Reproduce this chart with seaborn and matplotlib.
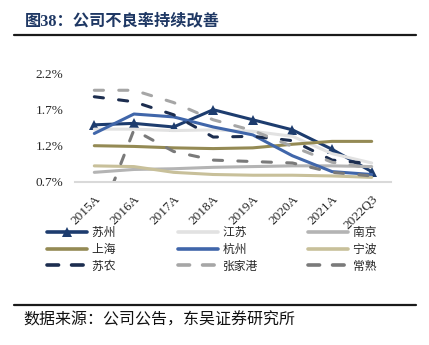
import matplotlib
matplotlib.use("Agg")
import matplotlib.pyplot as plt
from matplotlib.lines import Line2D
import seaborn as sns
import numpy as np

# ---- data ----
categories = ["2015A", "2016A", "2017A", "2018A", "2019A", "2020A", "2021A", "2022Q3"]
suzhou     = [1.49, 1.51, 1.46, 1.70, 1.56, 1.42, 1.15, 0.84]
jiangsu    = [1.43, 1.43, 1.41, 1.42, 1.40, 1.33, 1.09, 0.96]
nanjing    = [0.83, 0.87, 0.88, 0.90, 0.91, 0.92, 0.92, 0.91]
shanghai   = [1.20, 1.19, 1.17, 1.16, 1.17, 1.22, 1.26, 1.26]
hangzhou   = [1.37, 1.64, 1.60, 1.46, 1.35, 1.06, 0.84, 0.80]
ningbo     = [0.92, 0.91, 0.83, 0.80, 0.79, 0.79, 0.78, 0.76]
sunong     = [1.88, 1.81, 1.63, 1.32, 1.33, 1.27, 1.00, 0.95]
zhangjiagang = [1.97, 1.97, 1.80, 1.56, 1.41, 1.19, 0.97, 0.89]
changshu   = [0.00, 1.42, 1.12, 1.00, 0.98, 0.96, 0.83, 0.78]
series_names = ["苏州", "江苏", "南京", "上海", "杭州", "宁波", "苏农", "张家港", "常熟"]
series_values = [suzhou, jiangsu, nanjing, shanghai, hangzhou, ningbo, sunong, zhangjiagang, changshu]
yticks = [0.7, 1.2, 1.7, 2.2]
title = "图38：公司不良率持续改善"
source = "数据来源：公司公告，东吴证券研究所"

# ---- styles ----
colors = ["#1d3c6e", "#e2e2e2", "#b4b4b4", "#948a54", "#4066aa", "#c8c09a", "#1c2d4f", "#a6a6a6", "#7a7a7a"]
dashed = [False, False, False, False, False, False, True, True, True]
markers = ["^", None, None, None, None, None, None, None, None]

sns.set_style("white")
plt.rcParams['font.family'] = ['Liberation Serif', 'Noto Sans CJK SC', 'DejaVu Sans']

W, H = 429, 345
fig = plt.figure(figsize=(W / 100, H / 100), dpi=100)
ax = fig.add_axes([74.5 / W, 1 - 181.7 / H, 317 / W, 108 / H])

x = np.arange(len(categories))
handles = []
for name, vals, c, d, m in zip(series_names, series_values, colors, dashed, markers):
    ls = (0, (3.0, 5.0)) if d else "-"
    sns.lineplot(x=x, y=vals, ax=ax, color=c, lw=2.2, linestyle=ls,
                 marker=m if m else None, markersize=6.5, markeredgewidth=0,
                 sort=False, legend=False, clip_on=True)
    line = ax.lines[-1]
    line.set_solid_capstyle("round")
    line.set_dash_capstyle("round")
    h = Line2D([], [], color=c, lw=2.6, linestyle=(0, (3.2, 3.6)) if d else "-",
               marker=m if m else None, markersize=6.5, markeredgewidth=0,
               solid_capstyle="round", dash_capstyle="round")
    handles.append((h, name))

ax.set_xlim(-0.5, len(categories) - 0.5)
ax.set_ylim(yticks[0], yticks[-1])
ax.set_yticks(yticks)
ax.set_yticklabels([f"{v:.1f}%" for v in yticks], fontsize=9.5, family='Liberation Serif')
ax.set_xticks(x)
ax.set_xticklabels(categories, rotation=45, ha="right", va="top", rotation_mode="anchor",
                   fontsize=9.5, family='Liberation Serif')
ax.tick_params(axis="both", length=0)
ax.tick_params(axis="y", pad=8)
ax.tick_params(axis="x", pad=8)
for s in ["top", "right", "left"]:
    ax.spines[s].set_visible(False)
ax.spines["bottom"].set_color("#d9d9d9")
ax.spines["bottom"].set_linewidth(1.5)
ax.grid(False)
ax.set_xlabel("")
ax.set_ylabel("")

# legend: row-wise order in 3 columns
order = [0, 3, 6, 1, 4, 7, 2, 5, 8]
lh = [handles[i][0] for i in order]
ll = [handles[i][1] + ("\u3000" if len(handles[i][1]) == 2 else "") for i in order]
fig.legend(lh, ll, ncol=3, loc="upper left", bbox_to_anchor=(47 / W, 1 - 226 / H),
           frameon=False, prop={'family': ['Noto Sans CJK SC'], 'size': 8.5},
           handlelength=3.4, handletextpad=0.42, columnspacing=4.25,
           labelspacing=0.32, borderpad=0, borderaxespad=0)

# title and rules
fig.text(25 / W, 1 - 21 / H, title, fontsize=11.7, weight="bold", color="#1f3864",
         va="center", ha="left", family=['Liberation Serif', 'Noto Sans CJK SC'])
fig.add_artist(Line2D([14 / W, 416 / W], [1 - 35 / H] * 2, color="#1a1a1a", lw=1.6))
fig.add_artist(Line2D([14 / W, 416 / W], [1 - 305 / H] * 2, color="#1a1a1a", lw=1.6))
fig.text(23 / W, 1 - 320 / H, source, fontsize=11.5, va="center", ha="left",
         color="#111111", family=['Liberation Serif', 'Noto Sans CJK SC'])

fig.savefig("out.png", dpi=100, facecolor="white")
